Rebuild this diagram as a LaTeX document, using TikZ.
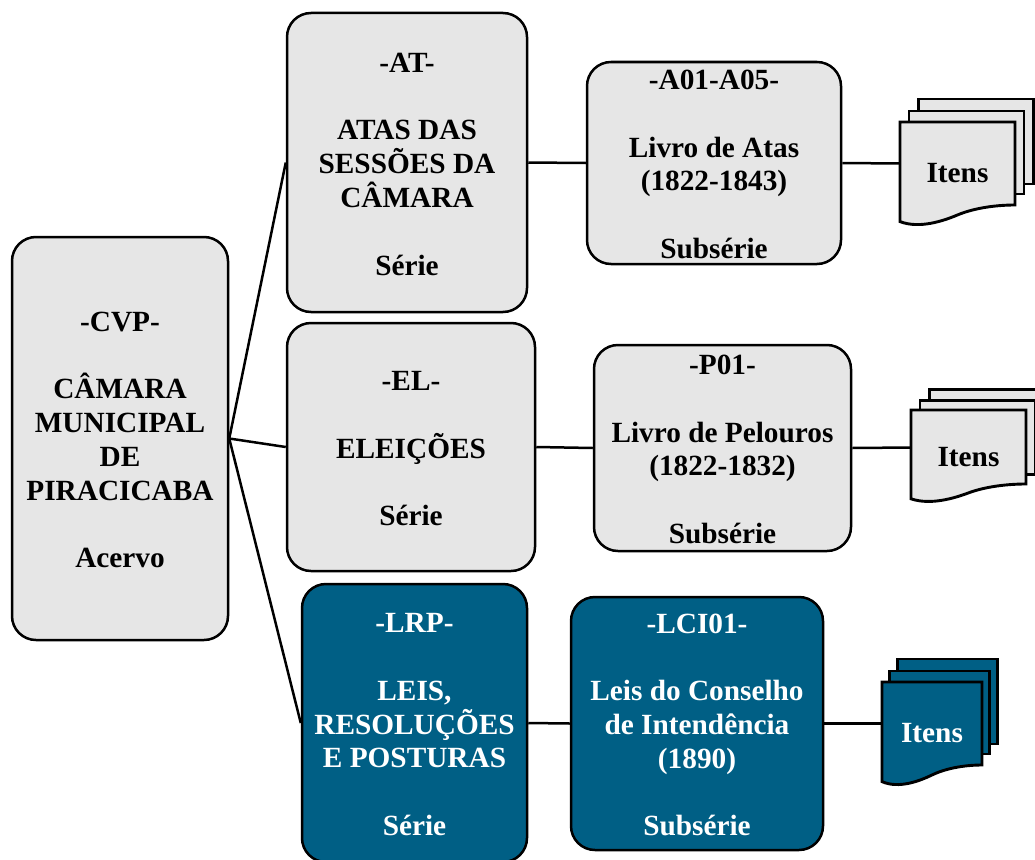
\documentclass[tikz,border=0pt]{standalone}
\usepackage{fontspec}
\setmainfont{Liberation Serif}
\definecolor{boxgray}{HTML}{E6E6E6}
\definecolor{boxblue}{HTML}{005F85}
\newcommand{\topnudge}{\rule{0pt}{22.5pt}}
\newcommand{\itemlabel}[1]{\raisebox{-19pt}[0pt][0pt]{#1}}
\tikzset{
  x=1pt,y=-1pt,
  every node/.style={font=\fontsize{29.3}{33.8}\selectfont\bfseries,align=center,inner sep=0pt},
  card/.style={draw=black,line width=2.5pt,rounded corners=24pt,fill=boxgray,text=black},
  bluecard/.style={card,fill=boxblue,text=white},
  link/.style={draw=black,line width=2.5pt},
  sheet/.style={draw=black,line width=2.9pt,fill=boxgray,line join=miter},
  bluesheet/.style={sheet,fill=boxblue},
}
% #1 left x, #2 top y, #3 width, #4 height, #5 sheet style
\newcommand{\docstack}[5]{%
  \draw[#5] ({#1+.157*#3},{#2-.277*#4}) rectangle ({#1+.157*#3+#3},{#2+.747*#4});
  \draw[#5] ({#1+.078*#3},{#2-.133*#4}) rectangle ({#1+.078*#3+#3},{#2+.867*#4});
  \draw[#5] (#1,#2) -- ({#1+#3},#2) -- ({#1+#3},{#2+#4})
     .. controls ({#1+.8*#3},{#2+#4}) and ({#1+.62*#3},{#2+#4+.05*#4}) .. ({#1+.5*#3},{#2+#4+.12*#4})
     .. controls ({#1+.38*#3},{#2+#4+.19*#4}) and ({#1+.17*#3},{#2+#4+.29*#4}) .. (#1,{#2+#4+.2*#4})
     -- cycle;
}
\begin{document}
\begin{tikzpicture}
\useasboundingbox (0,0) rectangle (1035,859);
% cards
\node[card,minimum width=216pt,minimum height=403pt] (cvp) at (120,438.5) {\topnudge-CVP-\\[33.8pt]CÂMARA\\MUNICIPAL\\DE\\PIRACICABA\\[33.8pt]Acervo};
\node[card,minimum width=240pt,minimum height=299pt] (at) at (407,162.5) {\topnudge-AT-\\[33.8pt]ATAS DAS\\SESSÕES DA\\CÂMARA\\[33.8pt]Série};
\node[card,minimum width=248pt,minimum height=248pt] (el) at (411,447) {\topnudge-EL-\\[33.8pt]ELEIÇÕES\\[33.8pt]Série};
\node[bluecard,minimum width=225pt,minimum height=278pt] (lrp) at (414.5,723) {\topnudge-LRP-\\[33.8pt]LEIS,\\RESOLUÇÕES\\E POSTURAS\\[33.8pt]Série};
\node[card,minimum width=254pt,minimum height=202pt] (a01) at (714,163) {\topnudge-A01-A05-\\[33.8pt]Livro de Atas\\(1822-1843)\\[33.8pt]Subsérie};
\node[card,minimum width=257pt,minimum height=206pt] (p01) at (722.5,448) {\topnudge-P01-\\[33.8pt]Livro de Pelouros\\(1822-1832)\\[33.8pt]Subsérie};
\node[bluecard,minimum width=252pt,minimum height=253pt] (lci) at (697,723.5) {\topnudge-LCI01-\\[33.8pt]Leis do Conselho\\de Intendência\\(1890)\\[33.8pt]Subsérie};
% document stacks
\docstack{900}{122}{115}{83}{sheet}
\docstack{911}{410}{115}{74}{sheet}
\docstack{882}{682}{100}{83}{bluesheet}
\node[minimum width=115pt,minimum height=83pt,text=black] (it1) at (957.5,163.5) {\itemlabel{Itens}};
\node[minimum width=115pt,minimum height=74pt,text=black] (it2) at (968.5,447.5) {\itemlabel{Itens}};
\node[minimum width=100pt,minimum height=83pt,text=white] (it3) at (932,723.5) {\itemlabel{Itens}};
% connectors
\draw[link] (cvp.east) -- (at.west);
\draw[link] (cvp.east) -- (el.west);
\draw[link] (cvp.east) -- (lrp.west);
\draw[link] (at.east) -- (a01.west);
\draw[link] (el.east) -- (p01.west);
\draw[link] (lrp.east) -- (lci.west);
\draw[link] (a01.east) -- (it1.west);
\draw[link] (p01.east) -- (it2.west);
\draw[link] (lci.east) -- (it3.west);
\end{tikzpicture}
\end{document}
